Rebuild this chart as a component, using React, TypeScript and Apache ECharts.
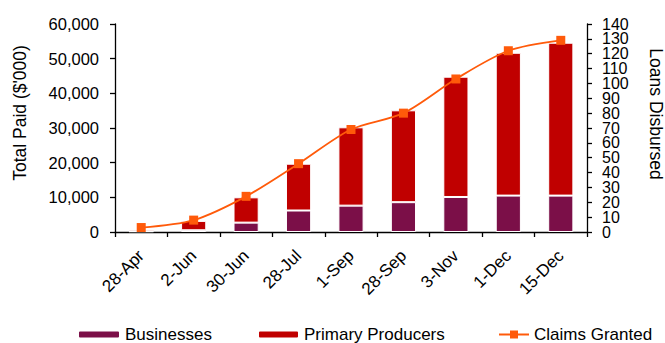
import React, { useEffect, useRef } from "react";
import * as echarts from "echarts";

const categories = ["28-Apr", "2-Jun", "30-Jun", "28-Jul", "1-Sep", "28-Sep", "3-Nov", "1-Dec", "15-Dec"];
const businesses = [200, 500, 2700, 6200, 7600, 8600, 10100, 10500, 10500];
const primaryProducers = [500, 2700, 7300, 13500, 22600, 26500, 34700, 41200, 44100];
const claimsGranted = [3, 8, 24, 46, 69, 80, 103, 122, 129];
const leftTicks = { min: 0, max: 60000, interval: 10000 };
const rightTicks = { min: 0, max: 140, interval: 10 };
const leftAxisTitle = "Total Paid ($'000)";
const rightAxisTitle = "Loans Disbursed";

const FONT = "Liberation Sans, Arial, sans-serif";

export default function App() {
  const ref = useRef<HTMLDivElement>(null);
  useEffect(() => {
    if (!ref.current) return;
    const chart = echarts.init(ref.current, null, { renderer: "svg" });
    const axisLine = { show: true, lineStyle: { color: "#000", width: 1.3 } };
    const tick = { show: true, length: 5, lineStyle: { color: "#000", width: 1.3 } };
    const legendText = { fontSize: 17, lineHeight: 16, color: "#000", fontFamily: FONT };
    const legendBase = { top: 326, padding: 0, textStyle: legendText, selectedMode: false };
    const rightLabel = (odd: boolean) => ({
      fontSize: 16,
      color: "#000",
      margin: 15,
      showMinLabel: true,
      showMaxLabel: true,
      formatter: (v: number) => {
        const isOdd = Math.round(v / 10) % 2 === 1;
        return isOdd === odd ? String(v) : "";
      },
    });
    chart.setOption({
      animation: false,
      textStyle: { fontFamily: FONT },
      grid: { left: 115, right: 78, top: 24, bottom: 111 },
      graphic: [
        {
          type: "text",
          x: 20,
          y: 113,
          rotation: Math.PI / 2,
          style: { text: leftAxisTitle, fontSize: 17.5, fill: "#000", fontFamily: FONT, textAlign: "center", textVerticalAlign: "middle" },
        },
        {
          type: "text",
          x: 656,
          y: 114,
          rotation: -Math.PI / 2,
          style: { text: rightAxisTitle, fontSize: 17.5, fill: "#000", fontFamily: FONT, textAlign: "center", textVerticalAlign: "middle" },
        },
      ],
      legend: [
        { ...legendBase, data: [{ name: "Businesses" }], left: 77, itemWidth: 42, itemHeight: 8 },
        { ...legendBase, data: [{ name: "Primary Producers" }], left: 257, itemWidth: 41, itemHeight: 8 },
        { ...legendBase, data: [{ name: "Claims Granted" }], left: 498, itemWidth: 30, itemHeight: 10 },
      ],
      xAxis: {
        type: "category",
        data: categories,
        boundaryGap: true,
        axisLine,
        axisTick: tick,
        axisLabel: { rotate: 45, fontSize: 17, color: "#000", margin: 21, interval: 0 },
      },
      yAxis: [
        {
          type: "value",
          ...leftTicks,
          axisLine,
          axisTick: tick,
          splitLine: { show: false },
          axisLabel: {
            fontSize: 16.5,
            color: "#000",
            margin: 16,
            showMinLabel: true,
            showMaxLabel: true,
            formatter: (v: number) => v.toLocaleString("en-US"),
          },
        },
        {
          type: "value",
          position: "right",
          ...rightTicks,
          axisLine,
          axisTick: tick,
          splitLine: { show: false },
          axisLabel: rightLabel(false),
        },
        {
          type: "value",
          position: "right",
          ...rightTicks,
          axisLine: { show: false },
          axisTick: { show: false },
          splitLine: { show: false },
          axisLabel: rightLabel(true),
        },
      ],
      series: [
        {
          name: "Businesses",
          type: "bar",
          stack: "paid",
          data: businesses,
          barWidth: "48%",
          itemStyle: { color: "#7B0F48", borderColor: "#fff", borderWidth: 1 },
        },
        {
          name: "Primary Producers",
          type: "bar",
          stack: "paid",
          data: primaryProducers,
          itemStyle: { color: "#C00000", borderColor: "#fff", borderWidth: 1 },
        },
        {
          name: "Claims Granted",
          type: "line",
          yAxisIndex: 1,
          data: claimsGranted,
          smooth: 0.3,
          symbol: "rect",
          symbolSize: 9,
          lineStyle: { color: "#FF5A0A", width: 1.8 },
          itemStyle: { color: "#FF5A0A" },
        },
      ],
    });
    return () => chart.dispose();
  }, []);
  return <div ref={ref} style={{ width: 665, height: 343, position: "absolute", left: 0, top: 0 }} />;
}
